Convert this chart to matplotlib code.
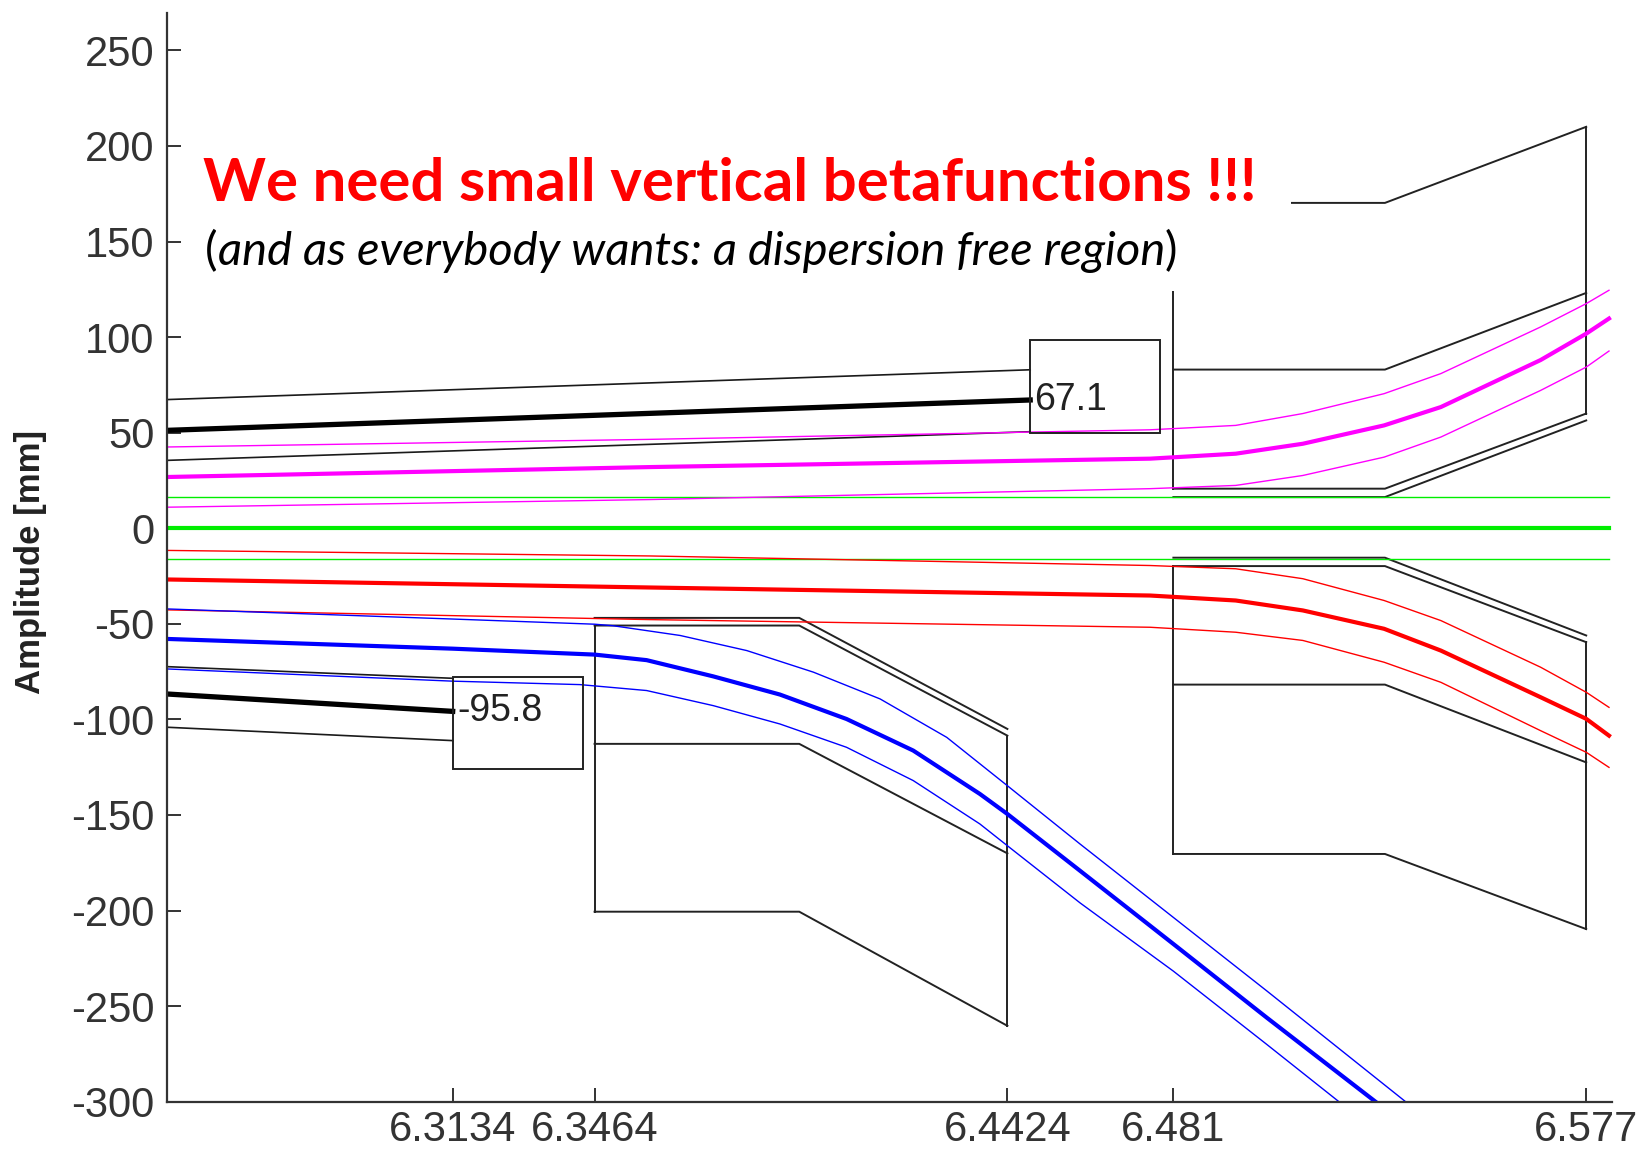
# ビーム包絡線とアパーチャのグラフを作成するスクリプト
import matplotlib
matplotlib.use('Agg')
import matplotlib.pyplot as plt
from matplotlib.patches import Rectangle

plt.rcParams['font.family'] = ['Liberation Sans', 'DejaVu Sans']
plt.rcParams['axes.unicode_minus'] = False  # "-50" はハイフン

# 軸の目盛り
y_ticks = [250, 200, 150, 100, 50, 0, -50, -100, -150, -200, -250, -300]
x_ticks = [6.3134, 6.3464, 6.4424, 6.481, 6.577]
x_tick_labels = ['6.3134', '6.3464', '6.4424', '6.481', '6.577']

# 緑 (分散なし: 中心線と ±)
green_s = [6.2469, 6.5823]
green_center = [0.0, 0.0]
green_upper = [16.3, 16.3]
green_lower = [-16.0, -16.0]

# マゼンタ (上側)
mag_s = [6.2469, 6.3593, 6.4756, 6.4955, 6.5111, 6.530, 6.5432, 6.5664, 6.577, 6.5823]
mag_center = [26.8, 32.0, 36.4, 39.0, 44.2, 53.8, 63.4, 88.0, 101.8, 109.7]
mag_upper = [42.5, 46.5, 51.5, 53.8, 60.0, 70.4, 80.9, 105.3, 117.5, 124.5]
mag_lower = [11.0, 15.0, 20.7, 22.4, 27.6, 37.2, 47.7, 72.1, 84.3, 92.7]

# 赤 (下側)
red_s = [6.2469, 6.3593, 6.4756, 6.4955, 6.5111, 6.530, 6.5432, 6.5664, 6.577, 6.5823]
red_center = [-26.8, -31.0, -35.2, -37.8, -43.0, -52.6, -64.0, -88.4, -99.7, -108.5]
red_upper = [-11.6, -14.5, -19.5, -21.2, -26.4, -37.8, -48.3, -72.7, -85.8, -93.7]
red_lower = [-42.7, -47.8, -51.8, -54.4, -58.7, -70.1, -80.6, -105.9, -117.2, -125.1]

# 青 (下側、急激に広がる)
blue_s = [6.2469, 6.3134, 6.3464, 6.3585, 6.374, 6.3895, 6.405, 6.4205, 6.436,
          6.4424, 6.4593, 6.481, 6.5027, 6.528]
blue_center = [-57.9, -63.0, -66.1, -69.0, -77.5, -87.0, -99.8, -116.3, -139.0,
               -149.5, -179.2, -217.5, -256.0, -300.0]
blue_up_s = [6.2469, 6.3134, 6.3464, 6.3507, 6.3663, 6.3818, 6.3973, 6.4128, 6.4283,
             6.4424, 6.4593, 6.481, 6.5027, 6.535]
blue_upper = [-42.2, -47.5, -50.2, -51.0, -56.1, -64.0, -75.3, -89.3, -109.4,
              -134.7, -165.2, -203.6, -242.0, -300.0]
blue_lo_s = [6.2469, 6.3134, 6.343, 6.3585, 6.374, 6.3895, 6.405, 6.4205, 6.436,
             6.4424, 6.4593, 6.481, 6.5027, 6.5195]
blue_lower = [-73.6, -80.0, -81.8, -84.9, -92.8, -102.4, -114.6, -132.0, -154.7,
              -166.1, -196.0, -231.7, -270.0, -300.0]

# 黒 (左側の包絡線)
blk_up_s = [6.2469, 6.4477]
blk_up_top = [67.3, 82.9]
blk_up_mid = [51.2, 67.1]
blk_up_bot = [35.5, 50.5]
blk_lo_s = [6.2469, 6.3134]
blk_lo_top = [-72.4, -78.5]
blk_lo_mid = [-86.7, -95.8]
blk_lo_bot = [-104.1, -111.1]

# 磁石1 (6.3464 - 6.4424)
q1_s = [6.3464, 6.394, 6.4424]
q1_outer = [-46.9, -46.9, -105.0]
q1_inner = [-50.9, -50.9, -108.5]
q1_mid = [-112.8, -112.8, -170.1]
q1_bottom = [-200.6, -200.6, -260.3]

# 磁石2 (6.481 - 6.577)
q2_s = [6.481, 6.5302, 6.577]
q2u_top = [170.2, 170.2, 210.0]
q2u_mid = [83.0, 83.0, 123.1]
q2u_inner = [20.7, 20.7, 60.0]
q2u_outer = [16.3, 16.3, 56.4]
q2l_outer = [-15.4, -15.4, -56.1]
q2l_inner = [-19.8, -19.8, -59.6]
q2l_mid = [-81.8, -81.8, -122.5]
q2l_bottom = [-170.4, -170.4, -209.7]

# ラベル
label_values = [67.1, -95.8]
label_s = [6.4477, 6.3134]

W, H = 1636, 1154
fig = plt.figure(figsize=(W / 100, H / 100), dpi=100)
ax = fig.add_axes([166.7 / W, 1 - 1101.7 / H, (1612 - 166.7) / W, (1101.7 - 12.7) / H])

ap = dict(color='#222222', lw=1.4, solid_joinstyle='miter')

# アパーチャ
ax.plot(q1_s, q1_outer, **ap)
ax.plot(q1_s, q1_inner, **ap)
ax.plot(q1_s, q1_mid, **ap)
ax.plot(q1_s, q1_bottom, **ap)
ax.plot([q1_s[0], q1_s[0]], [q1_inner[0], q1_bottom[0]], **ap)
ax.plot([q1_s[-1], q1_s[-1]], [q1_inner[-1], q1_bottom[-1]], **ap)

for ys in [q2u_top, q2u_mid, q2u_inner, q2u_outer, q2l_outer, q2l_inner, q2l_mid, q2l_bottom]:
    ax.plot(q2_s, ys, **ap)
ax.plot([q2_s[0], q2_s[0]], [q2u_top[0], q2u_inner[0]], **ap)
ax.plot([q2_s[-1], q2_s[-1]], [q2u_top[-1], q2u_inner[-1]], **ap)
ax.plot([q2_s[0], q2_s[0]], [q2l_inner[0], q2l_bottom[0]], **ap)
ax.plot([q2_s[-1], q2_s[-1]], [q2l_inner[-1], q2l_bottom[-1]], **ap)

# 黒い包絡線
ax.plot(blk_up_s, blk_up_top, color='#1a1a1a', lw=1.2)
ax.plot(blk_up_s, blk_up_mid, color='black', lw=3.8)
ax.plot(blk_up_s, blk_up_bot, color='#1a1a1a', lw=1.2)
ax.plot(blk_lo_s, blk_lo_top, color='#1a1a1a', lw=1.2)
ax.plot(blk_lo_s, blk_lo_mid, color='black', lw=3.8)
ax.plot(blk_lo_s, blk_lo_bot, color='#1a1a1a', lw=1.2)

# 色付きの包絡線
thin, thick = 1.0, 3.0
ax.plot(green_s, green_upper, color='#00ee00', lw=thin)
ax.plot(green_s, green_lower, color='#00ee00', lw=thin)
ax.plot(green_s, green_center, color='#00ee00', lw=thick)
ax.plot(mag_s, mag_upper, color='#ff00ff', lw=thin)
ax.plot(mag_s, mag_lower, color='#ff00ff', lw=thin)
ax.plot(mag_s, mag_center, color='#ff00ff', lw=thick)
ax.plot(red_s, red_upper, color='#ff0000', lw=thin)
ax.plot(red_s, red_lower, color='#ff0000', lw=thin)
ax.plot(red_s, red_center, color='#ff0000', lw=thick)
ax.plot(blue_up_s, blue_upper, color='#0000ff', lw=thin)
ax.plot(blue_lo_s, blue_lower, color='#0000ff', lw=thin)
ax.plot(blue_s, blue_center, color='#0000ff', lw=thick)

# 値ラベルの枠
box_w = 0.0303
box_dy = [(31.2, 17.5), (17.9, 30.1)]  # (上, 下)
for s, v, (up, dn) in zip(label_s, label_values, box_dy):
    ax.add_patch(Rectangle((s, v - dn), box_w, up + dn, fill=False,
                           edgecolor='#222222', lw=1.4, zorder=5))
    ax.text(s + 0.0010, v, f'{v:g}', fontsize=27, color='#222222',
            va='center', ha='left', zorder=6)

ax.set_xlim(6.2469, 6.583)
ax.set_ylim(-300, 269.7)
ax.set_xticks(x_ticks)
ax.set_xticklabels(x_tick_labels)
ax.set_yticks(y_ticks)
for side in ['top', 'right']:
    ax.spines[side].set_visible(False)
for side in ['left', 'bottom']:
    ax.spines[side].set_color('#333333')
    ax.spines[side].set_linewidth(1.6)
ax.tick_params(axis='both', direction='in', length=10, width=1.4,
               color='#333333', labelsize=30, labelcolor='#333333')
ax.tick_params(axis='y', pad=9)
ax.tick_params(axis='x', pad=6)

fig.text(31 / W, 1 - 562 / H, 'Amplitude [mm]', rotation=90, fontsize=25,
         fontweight='bold', color='#222222', ha='center', va='center')

# 文字の背景 (白)
fig.add_artist(Rectangle((181 / W, 1 - 291 / H), 1110 / W, 263 / H,
                         transform=fig.transFigure, facecolor='white',
                         edgecolor='none', zorder=2))

# タイトルと副題
title = fig.text(203 / W, 1 - 201 / H, 'We need small vertical betafunctions !!!',
                 fontsize=40, fontweight='bold', color='#ff0000',
                 family=['Lato', 'DejaVu Sans'], ha='left', va='baseline', zorder=3)
sub_parts = ['(', 'and as everybody wants: a dispersion free region', ')']
sub_style = ['normal', 'italic', 'normal']
sub = [fig.text(205 / W, 1 - 265 / H, p, fontsize=28, style=st, color='black',
                family=['Lato', 'DejaVu Sans'], ha='left', va='baseline', zorder=3)
       for p, st in zip(sub_parts, sub_style)]

fig.canvas.draw()
r = fig.canvas.get_renderer()
w = title.get_window_extent(r).width
title.set_fontsize(title.get_fontsize() * (1258 - 203) / w)

total = sum(t.get_window_extent(r).width for t in sub)
k = (1178 - 205) / total
for t in sub:
    t.set_fontsize(t.get_fontsize() * k)
fig.canvas.draw()
x = 205
for t in sub:
    t.set_x(x / W)
    x += t.get_window_extent(r).width

fig.savefig('out.png', dpi=100)
